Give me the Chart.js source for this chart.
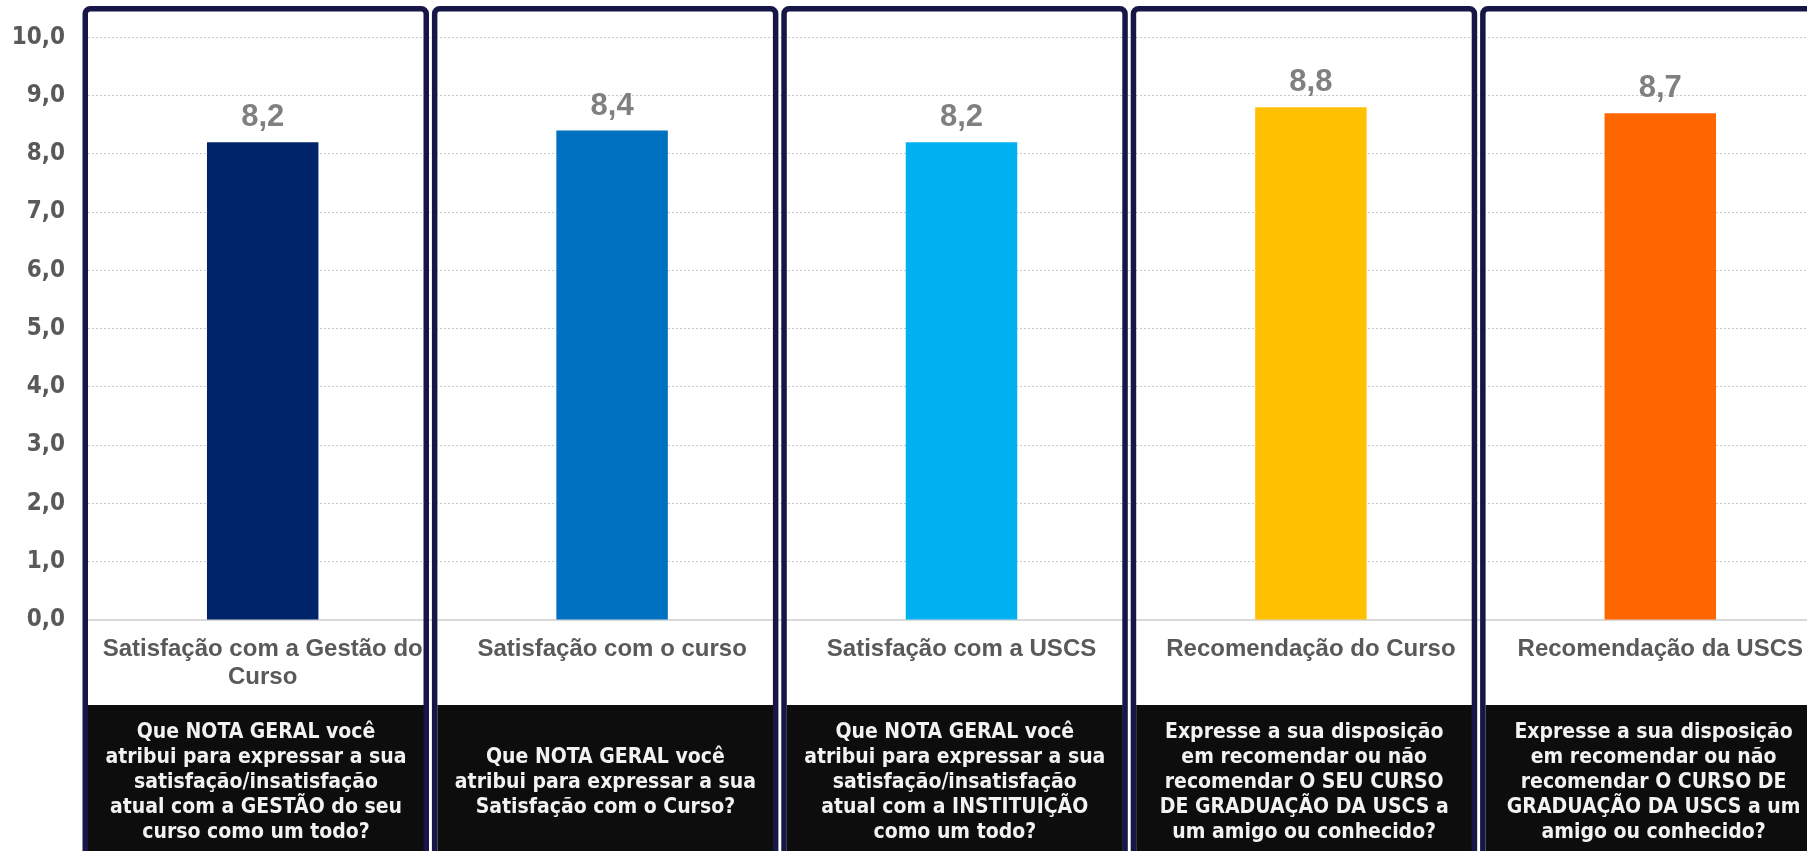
<!DOCTYPE html>
<html>
<head>
<meta charset="utf-8">
<script src="https://cdn.jsdelivr.net/npm/chart.js@4.4.1/dist/chart.umd.min.js"></script>
<style>
html, body { margin: 0; padding: 0; background: #fff; overflow: hidden; }
#wrap { position: absolute; left: 0; top: 0; width: 1835px; height: 851px; }
</style>
</head>
<body>
<div id="wrap"><canvas id="myChart"></canvas></div>
<script>
const categorias = [
    ['Satisfação com a Gestão do', 'Curso'],
    'Satisfação com o curso',
    'Satisfação com a USCS',
    'Recomendação do Curso',
    'Recomendação da USCS'
];
const notas = [8.2, 8.4, 8.2, 8.8, 8.7];
const coresBarras = ['#002469', '#0070C0', '#00B0F0', '#FFC000', '#FF6600'];
const yTicks = ['0,0', '1,0', '2,0', '3,0', '4,0', '5,0', '6,0', '7,0', '8,0', '9,0', '10,0'];
const perguntas = [
    ['Que NOTA GERAL você', 'atribui para expressar a sua', 'satisfação/insatisfação', 'atual com a GESTÃO do seu', 'curso como um todo?'],
    ['Que NOTA GERAL você', 'atribui para expressar a sua', 'Satisfação com o Curso?'],
    ['Que NOTA GERAL você', 'atribui para expressar a sua', 'satisfação/insatisfação', 'atual com a INSTITUIÇÃO', 'como um todo?'],
    ['Expresse a sua disposição', 'em recomendar ou não', 'recomendar O SEU CURSO', 'DE GRADUAÇÃO DA USCS a', 'um amigo ou conhecido?'],
    ['Expresse a sua disposição', 'em recomendar ou não', 'recomendar O CURSO DE', 'GRADUAÇÃO DA USCS a um', 'amigo ou conhecido?']
];

// rotulo com o valor em cima de cada barra
const rotulos = {
    id: 'rotulos',
    afterDatasetsDraw(chart) {
        const ctx = chart.ctx;
        ctx.save();
        ctx.fillStyle = '#808080';
        ctx.font = 'bold 31px "Liberation Sans", Arial, sans-serif';
        ctx.textAlign = 'center';
        ctx.textBaseline = 'alphabetic';
        chart.getDatasetMeta(0).data.forEach((bar, i) => {
            ctx.fillText(notas[i].toFixed(1).replace('.', ','), bar.x, bar.y - 16);
        });
        ctx.restore();
    }
};

// molduras azuis e caixas pretas com as perguntas
const paineis = {
    id: 'paineis',
    afterDraw(chart) {
        const ctx = chart.ctx;
        const x = chart.scales.x;
        const w = x.getPixelForValue(1) - x.getPixelForValue(0);
        ctx.save();
        perguntas.forEach((linhas, i) => {
            const ini = x.getPixelForValue(i) - w / 2;
            ctx.fillStyle = '#0d0d0d';
            ctx.fillRect(ini, 705, 336, 160);

            ctx.strokeStyle = '#171747';
            ctx.lineWidth = 5.5;
            ctx.beginPath();
            ctx.roundRect(ini - 2.75, 8.75, 341, 900, 5);
            ctx.stroke();

            ctx.fillStyle = '#f2f2f2';
            ctx.font = 'bold 21px "DejaVu Sans Condensed", "DejaVu Sans", sans-serif';
            ctx.textAlign = 'center';
            ctx.textBaseline = 'middle';
            const meio = ini + 168;
            linhas.forEach((t, k) => {
                ctx.fillText(t, meio, 783 + (k - (linhas.length - 1) / 2) * 25);
            });
        });
        ctx.restore();
    }
};

const ctx = document.getElementById('myChart').getContext('2d');
const myChart = new Chart(ctx, {
    type: 'bar',
    data: {
        labels: categorias,
        datasets: [{
            data: notas,
            backgroundColor: coresBarras,
            borderWidth: 0,
            categoryPercentage: 1,
            barPercentage: 0.319
        }]
    },
    options: {
        responsive: true,
        maintainAspectRatio: false,
        animation: false,
        layout: { padding: { top: 36.7, left: 0, right: 0, bottom: 0 } },
        plugins: {
            legend: { display: false },
            tooltip: { enabled: false }
        },
        scales: {
            y: {
                min: 0,
                max: 10,
                afterFit: (s) => { s.width = 88; },
                ticks: {
                    stepSize: 1,
                    padding: 23,
                    color: '#595959',
                    font: { family: '"DejaVu Sans Condensed", "DejaVu Sans"', size: 24, weight: 'bold' },
                    callback: (v) => yTicks[v]
                },
                grid: {
                    drawTicks: false,
                    color: (c) => c.tick && c.tick.value === 0 ? 'rgba(0,0,0,0)' : '#c8c8c8',
                    lineWidth: 1
                },
                border: { display: false, dash: [2, 2] }
            },
            x: {
                afterFit: (s) => { s.height = 231; },
                ticks: {
                    autoSkip: false,
                    maxRotation: 0,
                    minRotation: 0,
                    padding: 15,
                    color: '#595959',
                    font: { family: '"Liberation Sans", Arial', size: 24, weight: 'bold', lineHeight: 1.17 }
                },
                grid: { display: false, drawTicks: false },
                border: { display: true, color: '#d9d9d9', width: 2 }
            }
        }
    },
    plugins: [rotulos, paineis]
});
</script>
</body>
</html>
